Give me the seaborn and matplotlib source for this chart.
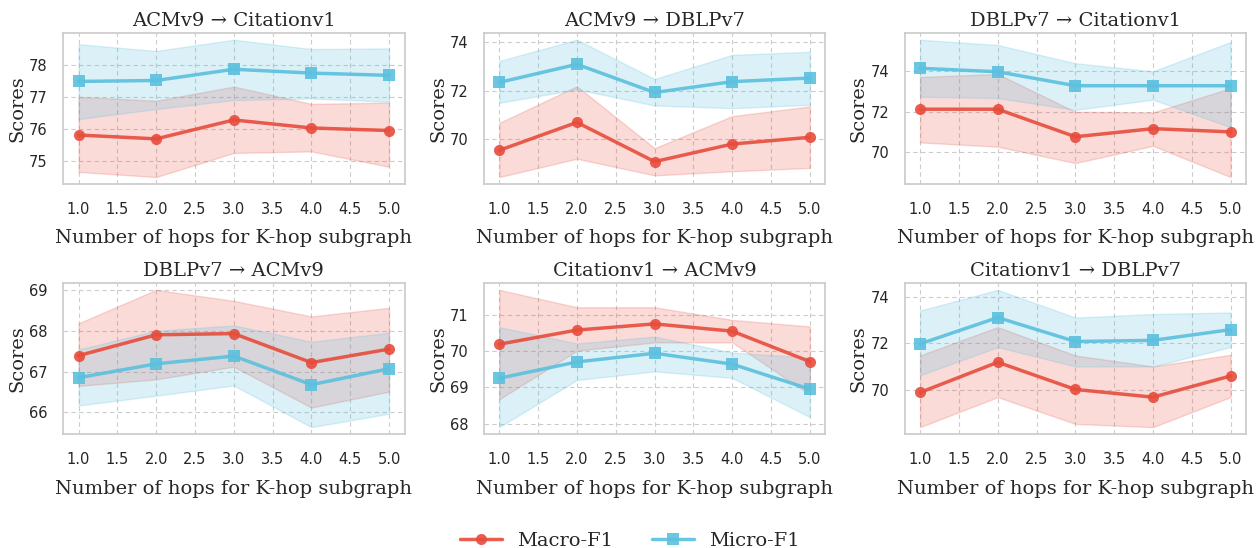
import numpy as np
import pandas as pd
import matplotlib
matplotlib.use('Agg')
import matplotlib.pyplot as plt
from matplotlib.ticker import MultipleLocator, FormatStrFormatter
import seaborn as sns

hops = [1.0, 2.0, 3.0, 4.0, 5.0]
titles = ['ACMv9 → Citationv1', 'ACMv9 → DBLPv7', 'DBLPv7 → Citationv1',
          'DBLPv7 → ACMv9', 'Citationv1 → ACMv9', 'Citationv1 → DBLPv7']

macro_mean = [[75.81, 75.69, 76.28, 76.03, 75.95],
              [69.52, 70.68, 69.05, 69.78, 70.06],
              [72.13, 72.13, 70.77, 71.17, 71.01],
              [67.39, 67.90, 67.93, 67.22, 67.55],
              [70.19, 70.58, 70.75, 70.55, 69.71],
              [69.88, 71.18, 70.01, 69.68, 70.59]]
macro_lo = [[74.66, 74.50, 75.25, 75.30, 74.82],
            [68.41, 69.17, 68.48, 68.65, 68.79],
            [70.49, 70.28, 69.47, 70.32, 68.78],
            [66.65, 66.81, 67.12, 66.12, 66.51],
            [68.67, 70.01, 70.24, 70.24, 68.80],
            [68.39, 69.68, 68.53, 68.39, 69.68]]
macro_hi = [[77.00, 76.88, 77.32, 76.78, 76.82],
            [70.66, 72.18, 69.61, 70.94, 71.34],
            [73.72, 73.87, 72.00, 71.97, 73.17],
            [68.18, 69.00, 68.73, 68.35, 68.56],
            [71.69, 71.21, 71.21, 70.86, 70.68],
            [71.47, 72.69, 71.47, 71.00, 71.50]]

micro_mean = [[77.48, 77.51, 77.86, 77.74, 77.67],
              [72.34, 73.09, 71.92, 72.37, 72.52],
              [74.15, 73.98, 73.29, 73.29, 73.29],
              [66.85, 67.19, 67.38, 66.68, 67.07],
              [69.25, 69.70, 69.94, 69.64, 68.95],
              [71.97, 73.10, 72.07, 72.12, 72.58]]
micro_lo = [[76.31, 76.62, 76.90, 76.95, 76.85],
            [71.49, 72.05, 71.38, 71.27, 71.41],
            [72.75, 72.68, 72.10, 72.60, 71.24],
            [66.17, 66.41, 66.66, 65.64, 65.97],
            [67.90, 69.20, 69.44, 69.26, 68.18],
            [70.62, 71.83, 71.00, 71.00, 71.83]]
micro_hi = [[78.64, 78.43, 78.78, 78.49, 78.51],
            [73.23, 74.11, 72.48, 73.48, 73.61],
            [75.56, 75.30, 74.40, 74.00, 75.45],
            [67.54, 68.00, 68.13, 67.73, 67.95],
            [70.66, 70.21, 70.40, 69.96, 69.82],
            [73.40, 74.29, 73.10, 73.25, 73.32]]

colors = {'Macro-F1': '#e74c3c', 'Micro-F1': '#5bc0de'}
markers = {'Macro-F1': 'o', 'Micro-F1': 's'}

sns.set_theme(style='whitegrid')
serif = 'DejaVu Serif'

fig, axes = plt.subplots(2, 3, figsize=(12.6, 5.48), dpi=100)
fig.subplots_adjust(left=0.05, right=0.989, top=0.94, bottom=0.208,
                    wspace=0.232, hspace=0.656)

for i, ax in enumerate(axes.flat):
    df = pd.DataFrame({
        'hops': hops * 2,
        'score': macro_mean[i] + micro_mean[i],
        'metric': ['Macro-F1'] * 5 + ['Micro-F1'] * 5,
    })
    ax.fill_between(hops, macro_lo[i], macro_hi[i], color=colors['Macro-F1'], alpha=0.2)
    ax.fill_between(hops, micro_lo[i], micro_hi[i], color=colors['Micro-F1'], alpha=0.22)
    sns.lineplot(data=df, x='hops', y='score', hue='metric', style='metric',
                 palette=colors, markers=markers, dashes=False, markersize=8,
                 linewidth=2.5, alpha=0.9, markeredgewidth=0, errorbar=None,
                 ax=ax, legend=(i == 0))
    ax.xaxis.set_major_locator(MultipleLocator(0.5))
    ax.xaxis.set_major_formatter(FormatStrFormatter('%.1f'))
    ax.set_title(titles[i], family=serif, fontsize=14, pad=5)
    ax.set_xlabel('Number of hops for K-hop subgraph', family=serif, fontsize=14, labelpad=9)
    ax.set_ylabel('Scores', family=serif, fontsize=14, labelpad=2)
    ax.tick_params(axis='x', labelsize=10.5, pad=7)
    ax.tick_params(axis='y', labelsize=10.5, pad=5)
    ax.grid(True, linestyle=(0, (4, 3)), color='#cccccc', linewidth=0.8)
    for s in ax.spines.values():
        s.set_color('#cccccc')

handles, labels = axes.flat[0].get_legend_handles_labels()
axes.flat[0].get_legend().remove()
fig.legend(handles, labels, loc='lower center', ncol=2, frameon=False,
           bbox_to_anchor=(0.5, -0.035), prop={'family': serif, 'size': 14},
           columnspacing=2.0, handlelength=2.15)

fig.savefig('out.png', dpi=100)
